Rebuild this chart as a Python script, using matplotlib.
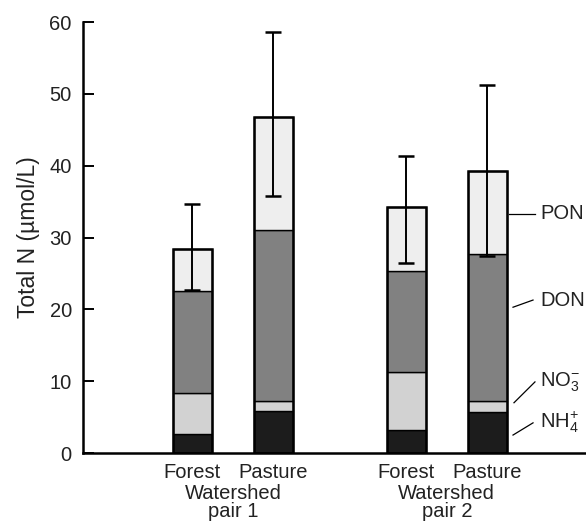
import numpy as np
import matplotlib
matplotlib.use("Agg")
import matplotlib.pyplot as plt
from matplotlib.transforms import blended_transform_factory

plt.rcParams['font.family'] = ['Liberation Sans', 'DejaVu Sans']
plt.rcParams['mathtext.fontset'] = 'custom'
plt.rcParams['mathtext.rm'] = 'Liberation Sans'
plt.rcParams['mathtext.it'] = 'Liberation Sans:italic'

# Werte (µmol/L)
sites = ["Forest", "Pasture", "Forest", "Pasture"]
pairs = ["Watershed\npair 1", "Watershed\npair 2"]
nh4 = [2.7, 5.9, 3.2, 5.7]
no3 = [5.7, 1.3, 8.1, 1.6]
don = [14.1, 23.8, 14.1, 20.4]
pon = [5.9, 15.8, 8.8, 11.6]
err_low = [22.7, 35.8, 26.5, 27.4]
err_high = [34.7, 58.6, 41.4, 51.2]

components = [nh4, no3, don, pon]
colors = ["#1c1c1c", "#d2d2d2", "#818181", "#eeeeee"]
names = ["PON", "DON", r"$\mathrm{NO_3^{-}}$", r"$\mathrm{NH_4^{+}}$"]

xpos = np.array([1.0, 2.0, 3.64, 4.64])
width = 0.48
fs = 14.5

fig = plt.figure(figsize=(5.86, 5.27), dpi=100)
ax = fig.add_axes([0.1416, 0.1404, 0.8584, 0.8176])

bottom = np.zeros(len(xpos))
for vals, col in zip(components, colors):
    ax.bar(xpos, vals, width, bottom=bottom, color=col, edgecolor="black",
           linewidth=1.0, zorder=2)
    bottom += np.array(vals)

# Umrandung der ganzen Säule
ax.bar(xpos, bottom, width, fill=False, edgecolor="black", linewidth=1.8, zorder=3)

# Fehlerbalken
ax.errorbar(xpos, bottom,
            yerr=[bottom - np.array(err_low), np.array(err_high) - bottom],
            fmt="none", ecolor="black", elinewidth=1.4, capsize=5.5,
            capthick=1.8, zorder=4)

ax.set_xlim(-0.352, 5.858)
ax.set_ylim(0, 60)
ax.set_yticks(np.arange(0, 61, 10))
ax.tick_params(axis="y", direction="in", length=8, width=1.4, labelsize=fs, pad=8,
               labelcolor="#222222")
ax.spines["top"].set_visible(False)
ax.spines["right"].set_visible(False)
ax.spines["left"].set_linewidth(1.8)
ax.spines["bottom"].set_linewidth(1.8)
ax.set_xticks([])
ax.set_ylabel("Total N (µmol/L)", fontsize=16.5, labelpad=7, color="#222222")

# Beschriftung unter den Säulen
trans = blended_transform_factory(ax.transData, ax.transAxes)
for x, s in zip(xpos, sites):
    ax.text(x, -0.024, s, transform=trans, ha="center", va="top", fontsize=fs,
            color="#222222")
for i, p in enumerate(pairs):
    xc = (xpos[2 * i] + xpos[2 * i + 1]) / 2
    ax.text(xc, -0.071, p, transform=trans, ha="center", va="top",
            fontsize=fs, linespacing=0.98, color="#222222")

# Komponentenbeschriftung rechts
label_y = [33.3, 21.3, 9.9, 4.3]
line_start = [(4.907, 33.3), (4.957, 20.3), (4.969, 7.0), (4.957, 2.5)]
line_end = [(5.228, 33.3), (5.204, 21.3), (5.228, 9.9), (5.204, 4.2)]
for name, ly, (x0, y0), (x1, y1) in zip(names, label_y, line_start, line_end):
    ax.plot([x0, x1], [y0, y1], color="black", linewidth=0.9, clip_on=False)
    ax.text(5.29, ly, name, ha="left", va="center", fontsize=fs, clip_on=False,
            color="#222222")

fig.savefig("out.png", dpi=100)
